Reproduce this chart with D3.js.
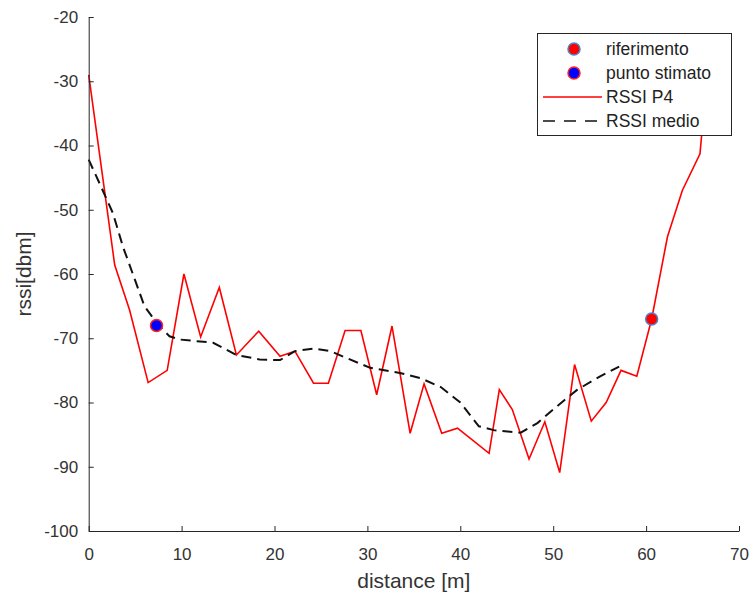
<!DOCTYPE html>
<html>
<head>
<meta charset="utf-8">
<script src="https://cdn.jsdelivr.net/npm/d3@7"></script>
<style>
  html, body { margin: 0; padding: 0; background: #fff; }
  svg { display: block; font-family: "Liberation Sans", Arial, Helvetica, sans-serif; }
</style>
</head>
<body>
<svg id="chart" width="750" height="593"></svg>
<script>
// ---- data ----
const rssiX = [0, 2.8, 4.4, 6.4, 8.45, 10.25, 12.05, 14.06, 15.9, 18.3, 20.6, 22.2, 24.2, 25.8, 27.6, 29.3, 31.0, 32.65, 34.6, 36.1, 38.0, 39.7, 43.1, 44.2, 45.6, 47.4, 49.1, 50.7, 52.3, 54.1, 55.7, 57.3, 59.0, 60.6, 62.3, 63.9, 65.8, 66.5];
const rssiY = [-29, -58.6, -65.6, -76.9, -75, -60, -69.8, -62.1, -72.6, -68.9, -72.8, -72, -77, -77, -68.8, -68.8, -78.8, -68.1, -84.8, -77.1, -84.8, -84, -87.9, -78, -81.1, -88.8, -83, -90.9, -74.1, -82.9, -80, -75, -75.9, -67, -54.2, -47, -41.3, -30];
const medioX = [0, 1.2, 2.6, 3.7, 5.0, 6.0, 7.3, 8.7, 9.8, 12.0, 13.4, 15.9, 18.4, 20.6, 22.2, 24.2, 26.0, 27.8, 30.3, 33.5, 35.7, 37.9, 40.0, 42.0, 43.6, 46.5, 48.3, 50.4, 52.6, 55.1, 57.1];
const medioY = [-42.2, -46, -50.5, -55.8, -61, -65, -67.6, -69.7, -70.2, -70.5, -70.7, -72.6, -73.3, -73.4, -72, -71.6, -72, -73.1, -74.6, -75.4, -76.2, -77.6, -80, -83.7, -84.3, -84.7, -83.2, -80.6, -78, -75.9, -74.4];
const riferimento = [60.6, -67];
const puntoStimato = [7.3, -68];
const xTicks = [0, 10, 20, 30, 40, 50, 60, 70];
const yTicks = [-100, -90, -80, -70, -60, -50, -40, -30, -20];
const legendLabels = ["riferimento", "punto stimato", "RSSI P4", "RSSI medio"];

// ---- scales ----
const svg = d3.select("#chart");
const x = d3.scaleLinear().domain([0, 70]).range([88.7, 739]);
const y = d3.scaleLinear().domain([-100, -20]).range([531, 17]);
const axisColor = "#262626";

// ---- lines ----
const line = d3.line().x(d => x(d[0])).y(d => y(d[1]));
const rssiData = rssiX.map((v, i) => [v, rssiY[i]]);
const medioData = medioX.map((v, i) => [v, medioY[i]]);

svg.append("path").datum(rssiData)
  .attr("d", line).attr("fill", "none")
  .attr("stroke", "#ff0000").attr("stroke-width", 1.6)
  .attr("stroke-linejoin", "miter");

svg.append("path").datum(medioData)
  .attr("d", line).attr("fill", "none")
  .attr("stroke", "#111").attr("stroke-width", 2)
  .attr("stroke-dasharray", "10,6");

// markers
svg.append("circle").attr("cx", x(puntoStimato[0])).attr("cy", y(puntoStimato[1]))
  .attr("r", 6).attr("fill", "#0000ff").attr("stroke", "#ff2020").attr("stroke-width", 1.5);
svg.append("circle").attr("cx", x(riferimento[0])).attr("cy", y(riferimento[1]))
  .attr("r", 6).attr("fill", "#ff0000").attr("stroke", "#4a86c8").attr("stroke-width", 1.5);

// ---- axes ----
const fmt = d => String(d);
const gx = svg.append("g").attr("transform", `translate(0,${y(-100)})`)
  .call(d3.axisBottom(x).tickValues(xTicks).tickFormat(fmt)
    .tickSizeInner(-5).tickSizeOuter(0).tickPadding(17));
const gy = svg.append("g").attr("transform", `translate(${x(0)},0)`)
  .call(d3.axisLeft(y).tickValues(yTicks).tickFormat(fmt)
    .tickSizeInner(-5).tickSizeOuter(0).tickPadding(10.5));
[gx, gy].forEach(g => {
  g.select(".domain").attr("stroke", axisColor).attr("stroke-width", 1);
  g.selectAll(".tick line").attr("stroke", axisColor);
  g.selectAll(".tick text").attr("fill", "#333")
    .style("font-size", "17px").style("font-family", "'Liberation Sans', Arial, sans-serif");
});

// axis labels
svg.append("text").attr("x", (x(0) + x(70)) / 2).attr("y", 588)
  .attr("text-anchor", "middle").attr("fill", "#333")
  .style("font-size", "21px").text("distance [m]");
svg.append("text").attr("transform", `translate(31,${(y(-20) + y(-100)) / 2}) rotate(-90)`)
  .attr("text-anchor", "middle").attr("fill", "#333")
  .style("font-size", "21px").text("rssi[dbm]");

// ---- legend ----
const lg = svg.append("g");
lg.append("rect").attr("x", 537.5).attr("y", 33.5).attr("width", 194).attr("height", 102)
  .attr("fill", "#fff").attr("stroke", axisColor).attr("stroke-width", 1);
const rowY = [49, 73, 97, 121];
lg.append("circle").attr("cx", 574).attr("cy", rowY[0]).attr("r", 6)
  .attr("fill", "#ff0000").attr("stroke", "#4a86c8").attr("stroke-width", 1.5);
lg.append("circle").attr("cx", 574).attr("cy", rowY[1]).attr("r", 6)
  .attr("fill", "#0000ff").attr("stroke", "#ff2020").attr("stroke-width", 1.5);
lg.append("line").attr("x1", 543).attr("x2", 602).attr("y1", rowY[2]).attr("y2", rowY[2])
  .attr("stroke", "#ff0000").attr("stroke-width", 1.6);
lg.append("line").attr("x1", 543).attr("x2", 602).attr("y1", rowY[3]).attr("y2", rowY[3])
  .attr("stroke", "#111").attr("stroke-width", 1.6).attr("stroke-dasharray", "12,9");
lg.selectAll("text.leg").data(legendLabels).enter().append("text")
  .attr("class", "leg")
  .attr("x", 606).attr("y", (d, i) => rowY[i] + 6)
  .attr("fill", "#222").style("font-size", "17.5px").text(d => d);
</script>
</body>
</html>
